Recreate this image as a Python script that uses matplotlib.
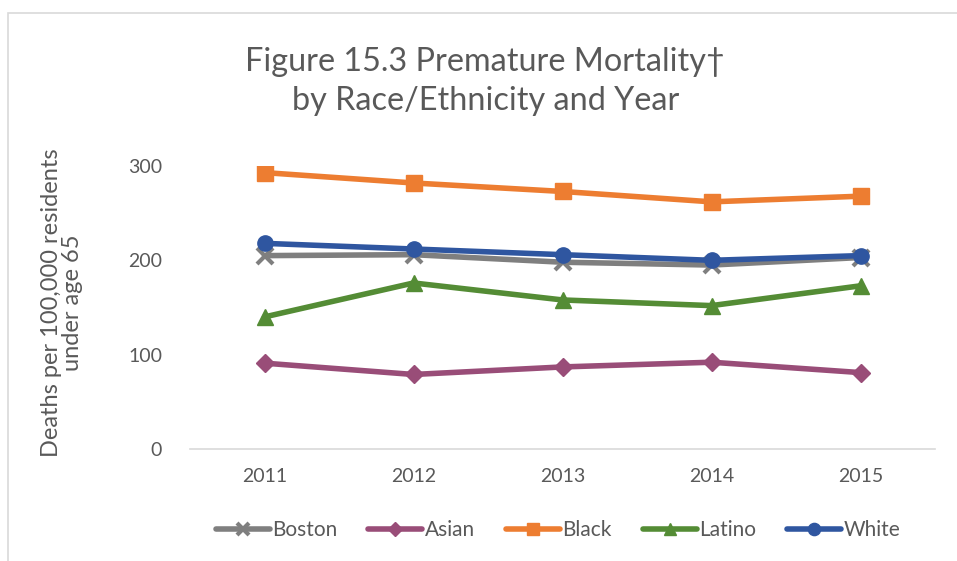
import numpy as np
import matplotlib.pyplot as plt
from matplotlib.patches import Rectangle

# ---------- Data ----------
years = ["2011", "2012", "2013", "2014", "2015"]
boston = [205, 206, 198, 195, 203]
asian = [91, 79, 87, 92, 81]
black = [293, 282, 273, 262, 268]
latino = [140, 176, 158, 152, 173]
white = [218, 212, 206, 200, 205]

series = [
    ("Boston", boston, "#7f7f7f", "x"),
    ("Asian", asian, "#994d78", "D"),
    ("Black", black, "#ed7d31", "s"),
    ("Latino", latino, "#548c35", "^"),
    ("White", white, "#2f56a0", "o"),
]

plt.rcParams['font.family'] = ['Lato', 'DejaVu Sans']

# ---------- Plot ----------
fig = plt.figure(figsize=(9.57, 5.61), dpi=100)
ax = fig.add_axes([190 / 957, 1 - 449 / 561, 745 / 957, (449 - 166) / 561])

x = np.arange(len(years))
for name, vals, col, mk in series:
    ms = 11 if mk != "D" else 9
    ax.plot(x, vals, color=col, lw=4, marker=mk, markersize=ms,
            markeredgewidth=3 if mk == "x" else 1, markeredgecolor=col,
            label=name, solid_capstyle='round')

ax.set_xlim(-0.5, len(years) - 0.5)
ax.set_ylim(0, 300)
ax.set_yticks([0, 100, 200, 300])
ax.set_xticks(x)
ax.set_xticklabels(years)
ax.tick_params(axis='both', length=0, labelsize=14, colors="#595959")
ax.tick_params(axis='y', pad=20)
ax.tick_params(axis='x', pad=14)

for s in ["top", "right", "left"]:
    ax.spines[s].set_visible(False)
ax.spines["bottom"].set_color("#d9d9d9")
ax.spines["bottom"].set_linewidth(1.2)

fig.text(62 / 957, 1 - 303 / 561, "Deaths per 100,000 residents\nunder age 65",
         rotation=90, ha="center", va="center", fontsize=17, color="#595959",
         linespacing=1.05)

fig.text(0.507, 1 - 62 / 561, "Figure 15.3 Premature Mortality\u2020", ha="center",
         va="center", fontsize=23.3, color="#595959")
fig.text(0.507, 1 - 101 / 561, "by Race/Ethnicity and Year", ha="center",
         va="center", fontsize=23.3, color="#595959")

leg = fig.legend(loc="center", bbox_to_anchor=(0.583, 1 - 530 / 561), ncol=5,
                 frameon=False, fontsize=15, handlelength=2.6, markerscale=0.8,
                 handletextpad=0.1, columnspacing=1.5)
for t in leg.get_texts():
    t.set_color("#595959")

fig.patches.append(Rectangle((8 / 957, -0.1), 1.1, 1 - 13 / 561 + 0.1,
                             transform=fig.transFigure, fill=False,
                             edgecolor="#d9d9d9", lw=1.2))

fig.savefig("out.png", dpi=100)
